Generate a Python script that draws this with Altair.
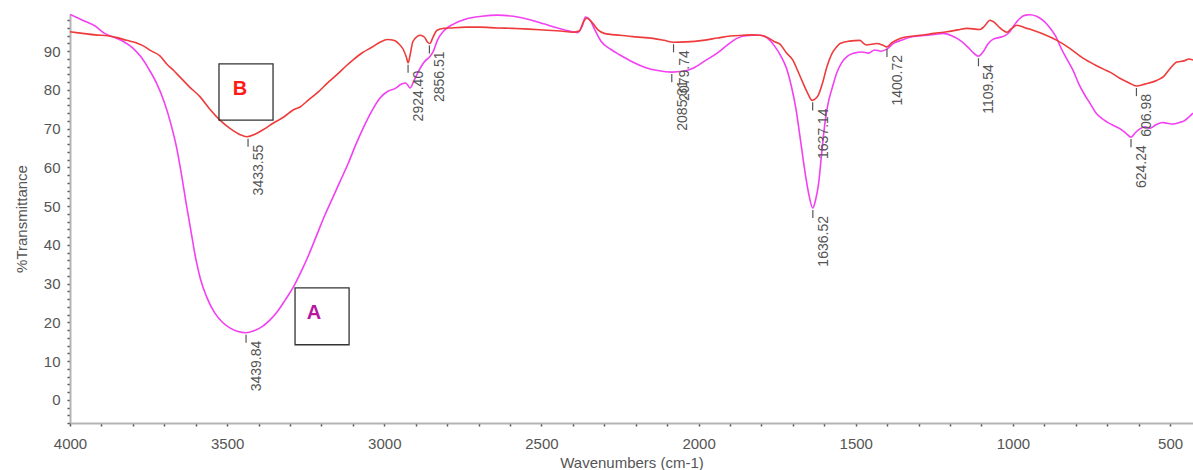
import altair as alt
import pandas as pd

# Spectrum A (magenta): wavenumber (cm-1) and % transmittance
wn_a = [4000, 3960, 3920, 3890, 3860, 3830, 3800, 3775, 3750, 3725, 3700, 3680,
        3660, 3645, 3630, 3615, 3600, 3585, 3565, 3540, 3515, 3490, 3465, 3440,
        3415, 3390, 3365, 3340, 3315, 3290, 3265, 3240, 3215, 3190, 3165, 3140,
        3115, 3090, 3065, 3040, 3015, 2990, 2965, 2945, 2932, 2918, 2905, 2890,
        2870, 2856, 2845, 2830, 2810, 2780, 2740, 2690, 2640, 2590, 2540, 2490,
        2440, 2400, 2385, 2370, 2360, 2345, 2330, 2310, 2280, 2250, 2210, 2170,
        2130, 2085, 2050, 2018, 1980, 1941, 1910, 1878, 1850, 1827, 1805, 1780,
        1760, 1740, 1720, 1705, 1690, 1675, 1660, 1648, 1637, 1628, 1618, 1608,
        1598, 1588, 1575, 1560, 1545, 1525, 1505, 1480, 1460, 1440, 1420, 1400,
        1380, 1355, 1327, 1290, 1250, 1222, 1195, 1168, 1140, 1125, 1110, 1095,
        1080, 1065, 1045, 1025, 1010, 995, 980, 960, 945, 925, 905, 885, 865, 845,
        825, 809, 790, 770, 755, 735, 715, 700, 680, 660, 640, 624, 610, 595, 580,
        564, 545, 525, 510, 490, 470, 455, 440, 427]
tr_a = [99.5, 98.0, 96.5, 94.6, 93.6, 92.5, 90.8, 88.6, 85.5, 81.8, 76.8, 71.5,
        64.8, 58.0, 50.5, 43.5, 36.5, 31.2, 26.5, 22.5, 20.0, 18.5, 17.6, 17.3,
        17.8, 18.8, 20.5, 22.8, 25.8, 29.0, 33.0, 37.5, 42.5, 47.5, 52.0, 56.5,
        61.0, 66.0, 70.5, 74.5, 77.8, 79.6, 80.4, 81.5, 81.8, 80.5, 82.5, 85.0,
        87.5, 88.5, 89.8, 93.0, 95.3, 97.0, 98.3, 99.0, 99.3, 99.0, 98.2, 97.0,
        95.8, 95.0, 94.8, 96.5, 98.8, 98.0, 95.5, 92.5, 90.5, 89.0, 87.2, 85.8,
        85.0, 84.6, 84.8, 85.6, 87.5, 89.5, 91.5, 93.3, 94.0, 94.1, 94.1, 93.3,
        91.5, 89.0, 85.5, 81.0, 75.0, 66.5, 58.0, 52.5, 49.5, 51.5, 56.0, 64.0,
        71.5, 76.5, 80.5, 84.5, 87.0, 88.8, 89.5, 89.8, 89.5, 90.3, 90.0, 90.6,
        92.0, 92.8, 93.6, 94.0, 94.3, 94.6, 94.0, 92.8, 90.8, 89.5, 88.7, 89.8,
        91.8, 93.0, 93.5, 94.0, 95.0, 96.8, 98.3, 99.3, 99.4, 99.0, 98.0, 96.3,
        94.0, 90.5, 87.5, 85.1, 81.5, 78.5, 76.6, 74.0, 72.5, 71.7, 70.8, 70.0,
        68.8, 67.8, 69.0, 70.0, 70.5, 70.1, 71.0, 71.6, 71.4, 71.2, 71.6, 72.0,
        73.0, 74.0]

# Spectrum B (red)
wn_b = [4000, 3960, 3920, 3880, 3850, 3820, 3790, 3770, 3740, 3714, 3690, 3670,
        3650, 3620, 3586, 3555, 3523, 3490, 3460, 3437, 3410, 3380, 3354, 3320,
        3290, 3268, 3240, 3210, 3182, 3150, 3120, 3100, 3070, 3040, 3014, 2990,
        2970, 2955, 2940, 2930, 2924, 2918, 2909, 2895, 2886, 2872, 2862, 2855,
        2845, 2832, 2810, 2790, 2740, 2696, 2640, 2590, 2540, 2482, 2440, 2400,
        2380, 2365, 2355, 2340, 2320, 2300, 2250, 2200, 2145, 2110, 2079, 2040,
        1986, 1940, 1900, 1859, 1830, 1805, 1780, 1760, 1741, 1720, 1700, 1685,
        1668, 1652, 1639, 1630, 1620, 1605, 1592, 1575, 1560, 1550, 1520, 1487,
        1475, 1465, 1450, 1433, 1415, 1401, 1385, 1359, 1330, 1296, 1250, 1210,
        1175, 1146, 1105, 1090, 1073, 1060, 1045, 1030, 1019, 1005, 987, 960,
        936, 900, 860, 820, 777, 740, 710, 691, 660, 630, 607, 580, 541, 520,
        500, 478, 455, 440, 427]
tr_b = [95.0, 94.6, 94.2, 94.0, 93.5, 92.8, 92.2, 91.5, 90.0, 88.8, 86.5, 85.0,
        83.3, 80.8, 78.2, 75.0, 72.2, 70.0, 68.5, 67.9, 68.6, 70.0, 71.4, 73.0,
        74.8, 75.6, 77.5, 79.5, 81.7, 84.0, 86.3, 87.7, 89.6, 91.0, 92.3, 93.0,
        92.8, 92.0, 90.5, 88.5, 87.0, 89.0, 92.5, 93.8, 94.1, 93.6, 92.3, 92.0,
        93.6, 95.4, 95.9, 96.0, 96.2, 96.2, 96.0, 95.9, 95.7, 95.4, 95.2, 94.9,
        95.2, 97.8, 98.5, 97.5, 95.5, 94.6, 94.1, 93.7, 93.3, 92.8, 92.3, 92.4,
        92.8, 93.4, 93.9, 94.1, 94.2, 94.1, 93.5, 92.5, 91.8, 89.5, 87.7, 85.0,
        81.8, 79.0, 77.3, 77.6, 78.5, 82.0, 85.9, 89.5, 91.2, 92.0, 92.6, 92.8,
        92.0, 91.6, 91.8, 92.0, 91.6, 91.1, 92.2, 93.3, 93.8, 94.1, 94.6, 95.0,
        95.5, 95.9, 95.6, 96.5, 98.0, 97.5, 96.3, 95.3, 94.9, 95.8, 96.7, 96.0,
        95.4, 94.3, 92.8, 90.8, 88.2, 86.5, 85.3, 84.6, 83.0, 81.8, 81.0, 81.5,
        82.5, 83.5, 85.5, 87.2, 87.5, 88.0, 87.7]

# Peak annotations: label text and the transmittance at that band
peak_labels = ["3439.84", "3433.55", "2924.40", "2856.51", "2085.31", "2079.74",
               "1637.14", "1636.52", "1400.72", "1109.54", "624.24", "606.98"]
peak_trans = [17.3, 67.9, 87.0, 92.0, 84.6, 92.3, 77.3, 49.5, 91.1, 88.7, 67.8, 81.0]

# Sample tags and the boxes around them (data coordinates)
tag_names = ["B", "A"]
tag_wn = [3459, 3224]
tag_tr = [80.2, 22.5]
box_wn_left = [3526, 3284]
box_wn_right = [3354, 3112]
box_tr_top = [86.7, 28.9]
box_tr_bottom = [72.2, 14.2]

MAGENTA = "#f240f2"
RED = "#ee3b3b"
FONT = "Liberation Sans"

spectra = pd.concat([
    pd.DataFrame({"wn": wn_a, "t": tr_a, "s": "A"}),
    pd.DataFrame({"wn": wn_b, "t": tr_b, "s": "B"}),
])
peaks = pd.DataFrame({"label": peak_labels, "t": peak_trans})
peaks["wn"] = peaks["label"].astype(float)
tags = pd.DataFrame({"name": tag_names, "wn": tag_wn, "t": tag_tr})
boxes = pd.DataFrame({"x1": box_wn_left, "x2": box_wn_right,
                      "y1": box_tr_top, "y2": box_tr_bottom})

x_scale = alt.Scale(domain=[4000, 427], nice=False, zero=False)
y_scale = alt.Scale(domain=[-6, 99.6], nice=False, zero=False)

x_axis = alt.Axis(
    title="Wavenumbers (cm-1)",
    values=list(range(4000, 499, -100)),
    tickCount=500,
    labelExpr="datum.value % 500 === 0 ? format(datum.value, 'd') : ''",
    labelOverlap=False,
    labelFlush=False,
    titlePadding=4,
    labelPadding=10,
)
y_axis = alt.Axis(
    title="%Transmittance",
    values=list(range(-6, 100, 2)),
    tickCount=500,
    labelExpr="(datum.value % 10 === 0 && datum.value >= 0) ? format(datum.value, 'd') : ''",
    labelOverlap=False,
    labelFlush=False,
    titlePadding=14,
    labelPadding=7,
)

lines = alt.Chart(spectra).mark_line(strokeWidth=1.6, interpolate="monotone").encode(
    x=alt.X("wn:Q", scale=x_scale, axis=x_axis),
    y=alt.Y("t:Q", scale=y_scale, axis=y_axis),
    color=alt.Color("s:N", scale=alt.Scale(domain=["A", "B"], range=[MAGENTA, RED]),
                    legend=None),
)

peak_ticks = alt.Chart(peaks).transform_calculate(
    ya="datum.t - 0.5", yb="datum.t - 2.6"
).mark_rule(color="#555555", strokeWidth=1.2).encode(
    x=alt.X("wn:Q", scale=x_scale),
    y=alt.Y("ya:Q", scale=y_scale),
    y2="yb:Q",
)

peak_text = alt.Chart(peaks).mark_text(
    angle=270, align="right", baseline="middle", dx=-8, dy=11,
    font=FONT, fontSize=14, color="#555555",
).encode(
    x=alt.X("wn:Q", scale=x_scale),
    y=alt.Y("t:Q", scale=y_scale),
    text="label:N",
)

box_marks = alt.Chart(boxes).mark_rect(
    fill="transparent", stroke="#333333", strokeWidth=1.3
).encode(
    x=alt.X("x1:Q", scale=x_scale), x2="x2:Q",
    y=alt.Y("y1:Q", scale=y_scale), y2="y2:Q",
)

tag_text = alt.Chart(tags).mark_text(
    font=FONT, fontSize=20, fontWeight="bold", baseline="middle", align="center"
).encode(
    x=alt.X("wn:Q", scale=x_scale),
    y=alt.Y("t:Q", scale=y_scale),
    text="name:N",
    color=alt.Color("name:N", scale=alt.Scale(domain=["A", "B"], range=["#b8179f", "#ff1a1a"]),
                    legend=None),
)

chart = alt.layer(lines, peak_ticks, peak_text, box_marks, tag_text).resolve_scale(
    color="independent"
).properties(
    width=1123,
    height=409,
    autosize=alt.AutoSizeParams(type="none"),
    padding={"left": 70, "top": 14, "right": 0, "bottom": 47},
    background="white",
).configure_view(
    stroke=None
).configure_axis(
    grid=False,
    domainColor="#b4b4b4",
    domainWidth=2,
    tickColor="#555555",
    tickSize=3,
    tickWidth=1.5,
    labelFont=FONT,
    labelFontSize=15,
    labelColor="#555555",
    titleFont=FONT,
    titleFontSize=15,
    titleFontWeight="normal",
    titleColor="#555555",
)

chart.save("out.html", embed_options={"renderer": "svg", "actions": False})
